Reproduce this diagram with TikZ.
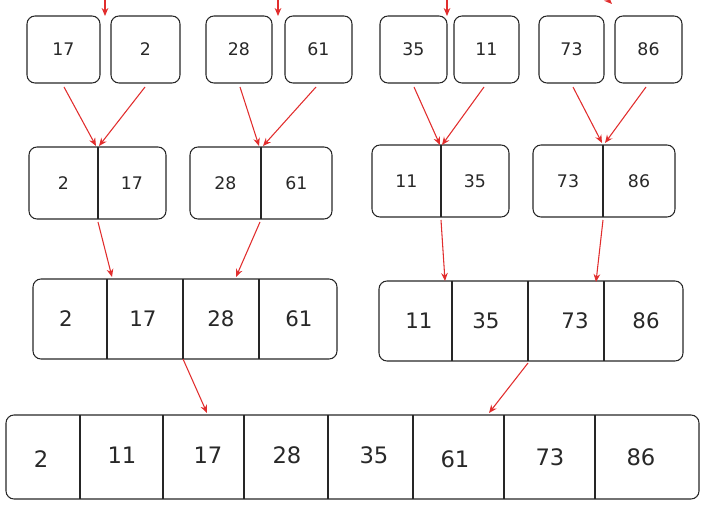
\documentclass[tikz,border=0pt]{standalone}
\usepackage{fontspec}
\setmainfont{DejaVu Sans}
\usetikzlibrary{arrows.meta}
\definecolor{ar}{RGB}{225,45,45}
\definecolor{tx}{RGB}{40,40,40}
\begin{document}
\begin{tikzpicture}[x=0.75pt,y=-0.75pt,
  bx/.style={draw=black!85,line width=0.8pt,rounded corners=6pt},
  dv/.style={draw=black!85,line width=0.8pt},
  a/.style={draw=ar,line width=0.8pt,-{Stealth[length=6pt,width=5pt]}},
  t/.style={text=tx,font=\fontsize{13}{13}\selectfont},
  tb/.style={text=tx,font=\fontsize{16}{16}\selectfont}]
\useasboundingbox (0,0) rectangle (711,531);
% row 1
\foreach \xa/\xb/\v/\n in {27/100/17/a1,111/180/2/a2,206/272/28/a3,285/352/61/a4,380/447/35/a5,454/519/11/a6,539/604/73/a7,615/682/86/a8}{
  \draw[bx] (\xa,16) rectangle (\xb,83);
  \node[t] (\n) at ({(\xa+\xb)/2},49) {\v};
  \coordinate (\n b) at ({(\xa+\xb)/2},83);
}
\foreach \x in {105,278,447}{ \coordinate (s\x) at (\x,-2); \coordinate (e\x) at (\x,16); \draw[a] (s\x) -- (e\x);}
\coordinate (s610) at (606,-2); \coordinate (e610) at (612,4); \draw[a] (s610) -- (e610);
% row 2
\foreach \xa/\xm/\xb/\y/\u/\v/\n in {29/98/166/147/2/17/b1,190/261/332/147/28/61/b2,372/441/509/145/11/35/b3,533/603/675/145/73/86/b4}{
  \draw[bx] (\xa,\y) rectangle (\xb,\y+72);
  \draw[dv] (\xm,\y) -- (\xm,\y+72);
  \node[t] at ({(\xa+\xm)/2},\y+36) {\u};
  \node[t] at ({(\xm+\xb)/2},\y+36) {\v};
  \coordinate (\n) at (\xm,\y);
  \coordinate (\n d) at (\xm,\y+72);
}
\coordinate (p1) at (64,87); \coordinate (q1) at (96,146);
\coordinate (p2) at (145,87); \coordinate (q2) at (99,146);
\coordinate (p3) at (240,87); \coordinate (q3) at (259,146);
\coordinate (p4) at (316,87); \coordinate (q4) at (263,146);
\coordinate (p5) at (414,87); \coordinate (q5) at (440,145);
\coordinate (p6) at (484,87); \coordinate (q6) at (442,145);
\coordinate (p7) at (573,87); \coordinate (q7) at (602,143);
\coordinate (p8) at (646,87); \coordinate (q8) at (605,143);
\foreach \i in {1,...,8}{\draw[a] (p\i) -- (q\i);}
% row 3
\draw[bx] (33,279) rectangle (337,359);
\foreach \x in {107,183,259}{\draw[dv] (\x,279) -- (\x,359);}
\foreach \x/\v in {66/2,143/17,221/28,299/61}{\node[tb] at (\x,319) {\v};}
\draw[bx] (379,281) rectangle (683,361);
\foreach \x in {452,528,604}{\draw[dv] (\x,281) -- (\x,361);}
\foreach \x/\v in {419/11,486/35,575/73,646/86}{\node[tb] at (\x,321) {\v};}
\coordinate (p9) at (98,222); \coordinate (q9) at (112,277);
\coordinate (p10) at (260,222); \coordinate (q10) at (236,277);
\coordinate (p11) at (441,220); \coordinate (q11) at (445,281);
\coordinate (p12) at (603,220); \coordinate (q12) at (596,282);
\coordinate (p13) at (183,359); \coordinate (q13) at (207,413);
\coordinate (p14) at (528,363); \coordinate (q14) at (489,413);
\foreach \i in {9,...,14}{\draw[a] (p\i) -- (q\i);}
% row 4
\draw[bx] (6,415) rectangle (699,499);
\foreach \x in {80,163,244,328,413,504,595}{\draw[dv] (\x,415) -- (\x,499);}
\foreach \x/\y/\v in {41/459/2,122/455/11,208/455/17,287/455/28,374/455/35,455/459/61,550/457/73,641/457/86}{\node[tb,font=\fontsize{17}{17}\selectfont] at (\x,\y) {\v};}
\end{tikzpicture}
\end{document}
